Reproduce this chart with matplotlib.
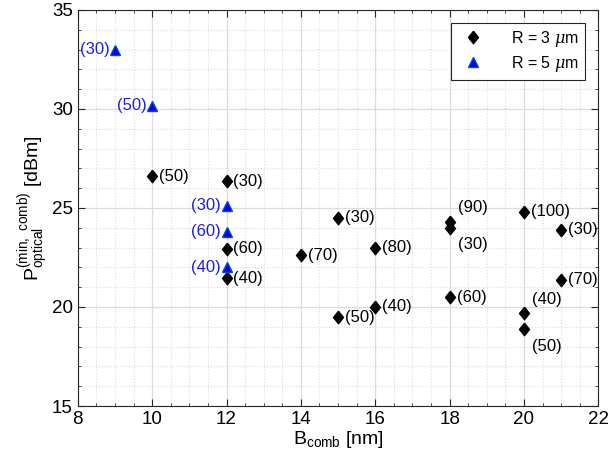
import numpy as np
import matplotlib.pyplot as plt
from matplotlib.ticker import MultipleLocator

plt.rcParams['font.family'] = ['Liberation Sans', 'DejaVu Sans']
plt.rcParams['mathtext.fontset'] = 'custom'
plt.rcParams['mathtext.rm'] = 'Liberation Sans'
plt.rcParams['mathtext.it'] = 'DejaVu Serif:italic'

# R = 3 um data
b3 = [10, 12, 12, 12, 14, 15, 15, 16, 16, 18, 18, 18, 20, 20, 20, 21, 21]
p3 = [26.6, 26.35, 22.93, 21.45, 22.6, 24.5, 19.47, 23.0, 20.02, 24.3, 24.0, 20.48, 24.8, 19.68, 18.87, 23.9, 21.37]
lab3 = ['50', '30', '60', '40', '70', '30', '50', '80', '40', '90', '30', '60', '100', '40', '50', '30', '70']
# label placement: 'r' right, 'ur' upper right, 'lr' lower right
pos3 = ['r', 'r', 'r', 'r', 'r', 'r', 'r', 'r', 'r', 'ur', 'lr', 'r', 'r', 'ur', 'lr', 'r', 'r']

# R = 5 um data
b5 = [9, 10, 12, 12, 12]
p5 = [33.0, 30.15, 25.1, 23.8, 22.0]
lab5 = ['30', '50', '30', '60', '40']

diamond = [(0, 1), (0.8, 0), (0, -1), (-0.8, 0), (0, 1)]

fig, ax = plt.subplots(figsize=(6.08, 4.71), dpi=100)
fig.subplots_adjust(left=0.128, right=0.984, bottom=0.138, top=0.979)

ax.plot(b3, p3, linestyle='none', marker=diamond, color='k', markersize=9,
        label=r'R = 3 $\mu$m', zorder=3)
ax.plot(b5, p5, '^', markerfacecolor='b', markeredgecolor='#0050c0', markersize=7.5,
        label=r'R = 5 $\mu$m', zorder=3)

offsets = {'r': (5, 0, 'left', 'center'),
           'ur': (6, 10, 'left', 'center'),
           'lr': (6, -12, 'left', 'center')}
for x, y, t, p in zip(b3, p3, lab3, pos3):
    dx, dy, ha, va = offsets[p]
    ax.annotate('(' + t + ')', (x, y), xytext=(dx, dy), textcoords='offset points',
                ha=ha, va=va, fontsize=12, color='k')
for x, y, t in zip(b5, p5, lab5):
    ax.annotate('(' + t + ')', (x, y), xytext=(-4, 0), textcoords='offset points',
                ha='right', va='center', fontsize=12, color='#2020e0')

ax.set_xlim(8, 22)
ax.set_ylim(15, 35)
ax.xaxis.set_major_locator(MultipleLocator(2))
ax.xaxis.set_minor_locator(MultipleLocator(0.5))
ax.yaxis.set_major_locator(MultipleLocator(5))
ax.yaxis.set_minor_locator(MultipleLocator(1))
ax.grid(True, which='major', color='#dcdcdc', linewidth=0.9)
ax.grid(True, which='minor', color='#dcdcdc', linestyle=':', linewidth=0.8)
ax.set_axisbelow(True)
ax.tick_params(which='both', direction='in', top=True, right=True, labelsize=13.5, color='#262626')
ax.tick_params(which='minor', length=2)
ax.tick_params(which='major', length=5)
for s in ax.spines.values():
    s.set_color('#262626')

ax.set_xlabel(r'$\mathregular{B_{comb}}$ [nm]', fontsize=14, labelpad=1)
ax.set_ylabel(r'$\mathregular{P_{optical}^{(min,\ comb)}}$ [dBm]', fontsize=14, labelpad=1)

leg = ax.legend(loc='upper right', fontsize=11.5, fancybox=False, framealpha=1,
                edgecolor='#262626', borderaxespad=0.8, handletextpad=1.4,
                labelspacing=0.3)
leg.get_frame().set_linewidth(0.8)

fig.savefig('out.png', dpi=100)
